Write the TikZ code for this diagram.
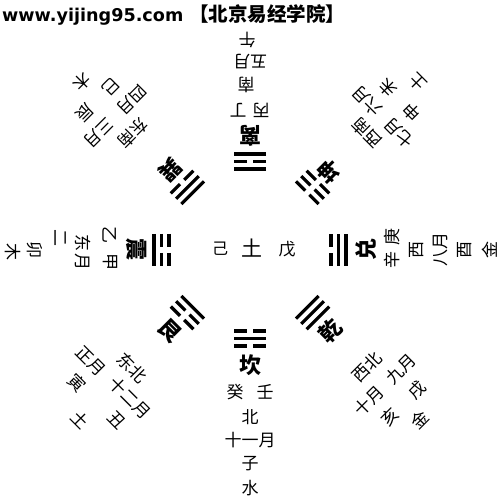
\documentclass[tikz,border=0pt]{standalone}
\usepackage{fontspec}
\newfontfamily\cjk{Noto Sans CJK SC}
\newfontfamily\webfont{DejaVu Sans}
\usetikzlibrary{calc}
% one line of a trigram: #1 = distance from the centre, #2 = 1 yang / 0 yin
\newcommand{\yao}[2]{\ifnum#2=1 \draw[yaoline] (-16,-#1) -- (16,-#1);\else \draw[yaoline] (-16,-#1) -- (-3,-#1) (3,-#1) -- (16,-#1);\fi}
% trigram, lines from the centre outwards
\newcommand{\gua}[3]{\yao{81}{#1}\yao{88.5}{#2}\yao{96}{#3}}
\tikzset{
  yaoline/.style={line width=3.2pt},
  zi/.style={font=\cjk\fontsize{17}{17}\selectfont, inner sep=0pt},
  guaming/.style={font=\cjk\bfseries\fontsize{22}{22}\selectfont, inner sep=0pt},
  fangwei/.style={shift={(250,250)}, rotate=#1, transform shape},
}

\begin{document}
\begin{tikzpicture}[x=1pt,y=1pt]
			%%%%% START %%%%%
			\useasboundingbox (0,0) rectangle (500,500);
			\fill[white] (0,0) rectangle (500,500);

			\node[anchor=west, inner sep=0pt] (title) at (2,485) {\webfont\bfseries\fontsize{17.6}{18}\selectfont www.yijing95.com {\cjk\bfseries\fontsize{19.5}{20}\selectfont 【北京易经学院】}};

			% centre
			\node[zi, font=\cjk\fontsize{16}{16}\selectfont] (zhong-ji) at (220,251) {己};
			\node[zi, font=\cjk\fontsize{21}{21}\selectfont] (zhong-tu) at (252,252) {土};
			\node[zi] (zhong-wu) at (287,251) {戊};

			% kan, bottom
			\begin{scope}[fangwei=0]
			\gua{0}{1}{0}
			\node[guaming] (kan) at (0,-115) {坎};
			\node[zi] (kan-gui) at (-15,-142) {癸};
			\node[zi] (kan-ren) at (15,-142) {壬};
			\node[zi] (kan-fang) at (0,-167) {北};
			\node[zi] (kan-yue) at (0,-190) {十一月};
			\node[zi] (kan-zhi) at (0,-214) {子};
			\node[zi] (kan-xing) at (0,-238) {水};
			\end{scope}

			% li, top
			\begin{scope}[fangwei=180]
			\gua{1}{0}{1}
			\node[guaming] (li) at (0,-114) {离};
			\node[zi] (li-bing) at (-11,-140) {丙};
			\node[zi] (li-ding) at (12,-140) {丁};
			\node[zi] (li-fang) at (4,-165) {南};
			\node[zi] (li-yue) at (0,-188) {五月};
			\node[zi] (li-zhi) at (3,-210) {午};
			\end{scope}

			% zhen, left
			\begin{scope}[fangwei=-90]
			\gua{0}{0}{1}
			\node[guaming] (zhen) at (0,-113) {震};
			\node[zi] (zhen-yi) at (-15,-140) {乙};
			\node[zi] (zhen-jia) at (12,-140) {甲};
			\node[zi] (zhen-fang) at (-7,-167) {东};
			\node[zi] (zhen-yue) at (12,-167) {月};
			\node[zi] (zhen-er) at (-12,-190) {二};
			\node[zi] (zhen-zhi) at (0,-215) {卯};
			\node[zi] (zhen-xing) at (2,-237) {木};
			\end{scope}

			% dui, right
			\begin{scope}[fangwei=90]
			\gua{0}{1}{1}
			\node[guaming] (dui) at (0,-116) {兑};
			\node[zi] (dui-xin) at (-10,-142) {辛};
			\node[zi] (dui-geng) at (13,-142) {庚};
			\node[zi] (dui-fang) at (0,-167) {西};
			\node[zi] (dui-yue) at (0,-190) {八月};
			\node[zi] (dui-zhi) at (0,-215) {酉};
			\node[zi] (dui-xing) at (0,-240) {金};
			\end{scope}

			% xun, top left
			\begin{scope}[fangwei=-135]
			\gua{1}{1}{0}
			\node[guaming] (xun) at (0,-113) {巽};
			\node[zi] (xun-fang) at (0,-165) {东南};
			\node[zi] (xun-yue1) at (-23,-190) {四月};
			\node[zi] (xun-yue2) at (24,-190) {三月};
			\node[zi] (xun-zhi1) at (-17,-214) {巳};
			\node[zi] (xun-zhi2) at (20,-214) {辰};
			\node[zi] (xun-xing) at (0,-238) {木};
			\end{scope}

			% kun, top right
			\begin{scope}[fangwei=135]
			\gua{0}{0}{0}
			\node[guaming] (kun) at (0,-111) {坤};
			\node[zi] (kun-fang) at (0,-165) {西南};
			\node[zi] (kun-yue1) at (-23,-188) {七月};
			\node[zi] (kun-yue2) at (23,-188) {六月};
			\node[zi] (kun-zhi1) at (-17,-212) {申};
			\node[zi] (kun-zhi2) at (17,-212) {未};
			\node[zi] (kun-xing) at (0,-237) {土};
			\end{scope}

			% gen, bottom left
			\begin{scope}[fangwei=-45]
			\gua{1}{0}{0}
			\node[guaming] (gen) at (0,-114) {艮};
			\node[zi] (gen-fang) at (0,-166) {东北};
			\node[zi] (gen-yue1) at (-34,-191) {正月};
			\node[zi] (gen-yue2) at (20,-189) {十二月};
			\node[zi] (gen-zhi1) at (-28,-216) {寅};
			\node[zi] (gen-zhi2) at (26,-214) {丑};
			\node[zi] (gen-xing) at (0,-240) {土};
			\end{scope}

			% qian, bottom right
			\begin{scope}[fangwei=45]
			\gua{1}{1}{1}
			\node[guaming] (qian) at (0,-114) {乾};
			\node[zi] (qian-fang) at (0,-166) {西北};
			\node[zi] (qian-yue1) at (-23,-191) {十月};
			\node[zi] (qian-yue2) at (23,-191) {九月};
			\node[zi] (qian-zhi1) at (-19,-217) {亥};
			\node[zi] (qian-zhi2) at (19,-217) {戌};
			\node[zi] (qian-xing) at (0,-240) {金};
			\end{scope}

			%%%%% END %%%%%
\end{tikzpicture}
\end{document}
